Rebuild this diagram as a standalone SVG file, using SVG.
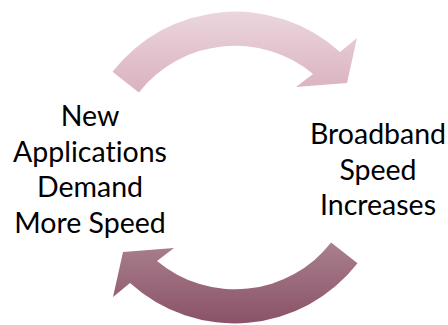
<svg xmlns="http://www.w3.org/2000/svg" width="448" height="325" viewBox="0 0 448 325">
<style>
.t{font-family:Lato,"Open Sans",sans-serif;font-size:28.5px;fill:#000;text-anchor:middle;font-variant-ligatures:none;font-feature-settings:"liga" 0}
</style>
<defs>
<linearGradient id="gTop" x1="0" y1="0" x2="0" y2="1">
<stop offset="0" stop-color="#ebd6dd"/>
<stop offset="1" stop-color="#dab2bf"/>
</linearGradient>
<linearGradient id="gBot" x1="0" y1="0" x2="0" y2="1">
<stop offset="0" stop-color="#a97f8d"/>
<stop offset="1" stop-color="#8a5268"/>
</linearGradient>
</defs>
<g id="connectors">
<path id="arrow-top" fill="url(#gTop)" d="M112.5 71.8 A155.5 155.5 0 0 1 340 52 L357 38 L347 83 L296 87 L313 74 A122 122 0 0 0 138.9 92.4 Z"/>
<path id="arrow-bottom" fill="url(#gBot)" d="M357.5 263.2 A155.5 155.5 0 0 1 130 283 L113 297 L123 252 L174 248 L157 261 A122 122 0 0 0 331.1 242.6 Z"/>
</g>
<g id="node-left">
<text class="t" x="90" y="126">New</text>
<text class="t" x="90" y="161.5">Applications</text>
<text class="t" x="90" y="197">Demand</text>
<text class="t" x="90" y="232.5">More Speed</text>
</g>
<g id="node-right">
<text class="t" x="378" y="144">Broadband</text>
<text class="t" x="378" y="179.5">Speed</text>
<text class="t" x="378" y="215">Increases</text>
</g>
</svg>
